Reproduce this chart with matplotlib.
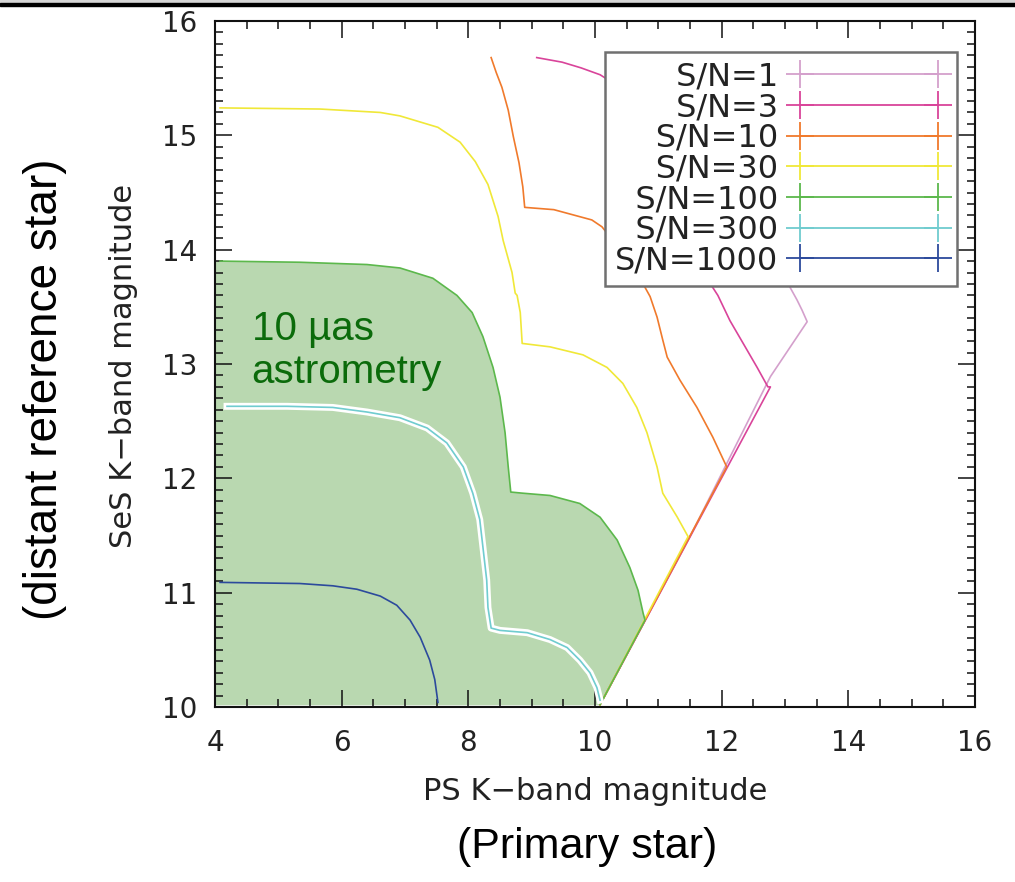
import matplotlib
matplotlib.use('Agg')
import matplotlib.pyplot as plt
import matplotlib.patheffects as pe
from matplotlib.patches import Rectangle
from matplotlib.ticker import MultipleLocator

# curves: (PS K mag, SeS K mag) for each S/N level
sn1_x = [10.6, 11.8, 12.5, 12.9, 13.03, 13.19, 13.27, 13.35, 12.77, 11.5, 10.08]
sn1_y = [15.70, 15.5, 15.0, 14.3, 13.72, 13.56, 13.47, 13.37, 12.89, 11.49, 10.02]

sn3_x = [9.08, 9.48, 9.78, 10.08, 10.71, 11.34, 11.66, 11.80, 11.94, 12.13, 12.34, 12.56, 12.73, 12.77, 10.08]
sn3_y = [15.68, 15.64, 15.59, 15.53, 15.31, 14.87, 14.26, 13.72, 13.60, 13.38, 13.18, 12.97, 12.80, 12.80, 10.02]

sn10_x = [8.36, 8.44, 8.53, 8.63, 8.71, 8.80, 8.86, 8.89, 9.35, 9.95, 10.11, 10.47,
          10.74, 10.87, 10.98, 11.07, 11.14, 11.34, 11.61, 11.86, 12.08, 10.08]
sn10_y = [15.68, 15.55, 15.42, 15.22, 14.99, 14.76, 14.55, 14.37, 14.35, 14.26, 14.20, 13.95,
          13.72, 13.59, 13.41, 13.21, 13.06, 12.86, 12.62, 12.36, 12.10, 10.02]

sn30_x = [4.08, 5.66, 6.61, 6.92, 7.52, 7.87, 8.11, 8.31, 8.47, 8.55, 8.59, 8.69, 8.74, 8.77,
          8.82, 8.85, 9.29, 9.81, 10.19, 10.44, 10.66, 10.82, 10.98, 11.07, 11.30, 11.47, 10.08]
sn30_y = [15.24, 15.23, 15.20, 15.17, 15.07, 14.94, 14.77, 14.57, 14.29, 14.08, 14.00, 13.80, 13.62, 13.60,
          13.45, 13.18, 13.15, 13.08, 12.97, 12.83, 12.62, 12.40, 12.10, 11.87, 11.66, 11.49, 10.02]

sn100_x = [4.08, 5.34, 6.40, 6.92, 7.44, 7.82, 8.06, 8.23, 8.39, 8.50, 8.58, 8.63, 8.67,
           8.86, 9.29, 9.76, 10.08, 10.35, 10.55, 10.68, 10.76, 10.79, 10.08]
sn100_y = [13.90, 13.89, 13.87, 13.84, 13.75, 13.60, 13.45, 13.24, 12.97, 12.71, 12.40, 12.10, 11.88,
           11.87, 11.85, 11.78, 11.66, 11.46, 11.22, 11.02, 10.82, 10.76, 10.02]

sn300_x = [4.19, 5.14, 5.86, 6.40, 6.92, 7.35, 7.66, 7.92, 8.07, 8.18, 8.23, 8.29, 8.31, 8.36,
           8.50, 8.93, 9.29, 9.56, 9.76, 9.92, 10.03, 10.08]
sn300_y = [12.63, 12.63, 12.62, 12.58, 12.53, 12.44, 12.31, 12.10, 11.87, 11.64, 11.40, 11.11, 10.87, 10.69,
           10.67, 10.65, 10.59, 10.52, 10.41, 10.30, 10.17, 10.06]

sn1000_x = [4.08, 5.34, 5.86, 6.24, 6.61, 6.87, 7.08, 7.24, 7.39, 7.47, 7.52]
sn1000_y = [11.09, 11.08, 11.06, 11.03, 10.97, 10.89, 10.76, 10.61, 10.41, 10.24, 10.04]

labels = ['S/N=1', 'S/N=3', 'S/N=10', 'S/N=30', 'S/N=100', 'S/N=300', 'S/N=1000']
colors = ['#d4a0cc', '#d9449a', '#f07a2c', '#f0e838', '#5cb84c', '#70cccf', '#2c4a9c']

fig = plt.figure(figsize=(10.15, 8.82), dpi=100)
ax = fig.add_axes([215/1015, 175/882, 760/1015, 686/882])

# top border of the page
fig.patches.append(Rectangle((0, 1 - 3/882), 1, 3/882, transform=fig.transFigure,
                             color='#d6d6d6', zorder=0))
fig.patches.append(Rectangle((0, 1 - 6/882), 1, 3/882, transform=fig.transFigure,
                             color='black', zorder=0))

# green shaded region below S/N=100
fx = [4.0] + sn100_x + [sn100_x[-1], 4.0]
fy = [sn100_y[0]] + sn100_y + [10.015, 10.015]
ax.fill(fx, fy, color='#b9d8b0', lw=0, zorder=1)

series = [(sn1_x, sn1_y), (sn3_x, sn3_y), (sn10_x, sn10_y), (sn30_x, sn30_y),
          (sn100_x, sn100_y), (sn300_x, sn300_y), (sn1000_x, sn1000_y)]

handles = []
for (xs, ys), lab, col in zip(series, labels, colors):
    ax.plot(xs, ys, color=col, lw=1.2, zorder=3,
            path_effects=[pe.Stroke(linewidth=5, foreground='white'), pe.Normal()] if lab == 'S/N=300' else None)
    h, = plt.plot([], [], color=col, lw=1.3, marker='+', markersize=20, markeredgewidth=1.3)
    handles.append(h)

# right-align labels with figure spaces (same width as digits)
maxlen = max(len(s) for s in labels)
padded = ['\u2007' * (maxlen - len(s)) + s for s in labels]
leg = ax.legend(handles, padded, loc='upper right', bbox_to_anchor=(0.976, 0.955),
                borderaxespad=0, fancybox=False, framealpha=1, numpoints=2,
                markerfirst=False, handlelength=4.9, handletextpad=0.4,
                labelspacing=-0.01, borderpad=0.3,
                prop={'family': 'DejaVu Sans', 'size': 23})
leg.get_frame().set_edgecolor('#707070')
leg.get_frame().set_linewidth(1.8)
for t in leg.get_texts():
    t.set_color('#222222')
leg.set_zorder(10)

ax.text(4.58, 13.47, '10 \u00b5as\nastrometry', color='#0b6b0b', fontsize=29,
        family='Liberation Sans', va='top', ha='left', linespacing=1.15, zorder=5)

ax.set_xlim(4, 16)
ax.set_ylim(10, 16)
ax.xaxis.set_major_locator(MultipleLocator(2))
ax.xaxis.set_minor_locator(MultipleLocator(0.5))
ax.yaxis.set_major_locator(MultipleLocator(1))
ax.yaxis.set_minor_locator(MultipleLocator(0.1))
ax.tick_params(which='both', direction='in', top=True, right=True, width=1.1, color='#111111')
ax.tick_params(which='major', length=12, labelsize=20, labelcolor='#222222', pad=13)
ax.tick_params(axis='x', which='major', pad=16)
ax.tick_params(which='minor', length=6)
for s in ax.spines.values():
    s.set_linewidth(1.5)
    s.set_color('#111111')

fig.text(595/1015, 1 - 791/882, 'PS K\u2212band magnitude', fontsize=22, color='#222222',
         ha='center', va='center', family='DejaVu Sans')
fig.text(124/1015, 1 - 366/882, 'SeS K\u2212band magnitude', fontsize=22, color='#222222',
         ha='center', va='center', rotation=90, family='DejaVu Sans')
fig.text(587/1015, 1 - 847/882, '(Primary star)', fontsize=31, color='black',
         ha='center', va='center', family='Liberation Sans')
fig.text(45/1015, 1 - 389/882, '(distant reference star)', fontsize=33, color='black',
         ha='center', va='center', rotation=90, family='Liberation Sans')

fig.savefig('out.png', dpi=100)
